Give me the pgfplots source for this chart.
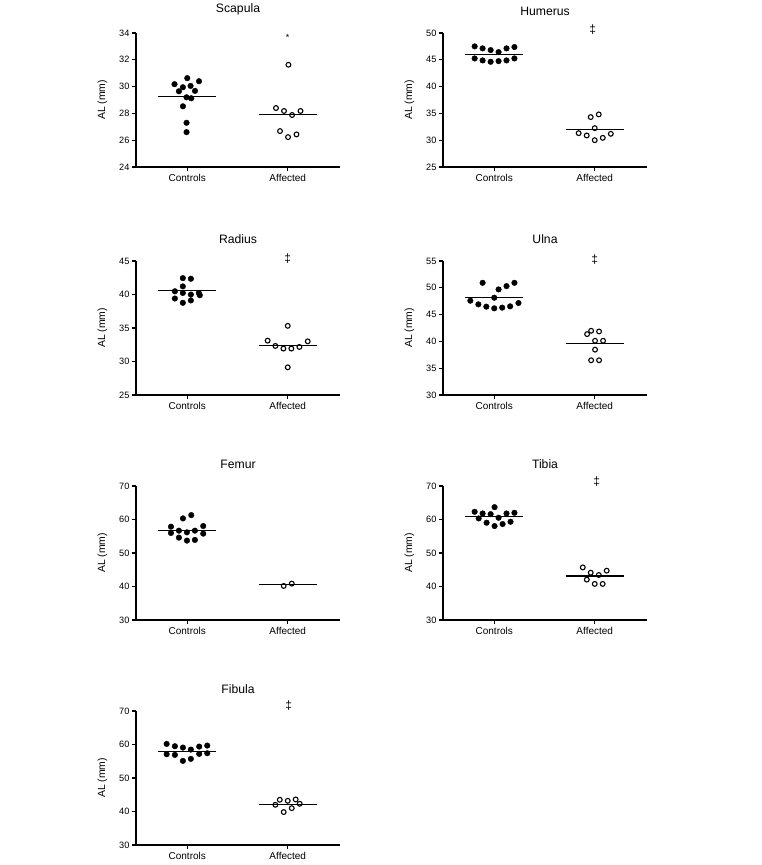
\documentclass[border=0pt]{standalone}
\usepackage{pgfplots}
\pgfplotsset{compat=1.18}
\usepackage{fontspec}
\setmainfont{Liberation Sans}
\tikzset{sig/.style={font=\fontsize{12}{13}\selectfont}}
\pgfplotsset{
  bone/.style={
    width=204pt, height=134pt, scale only axis,
    xmin=0.49, xmax=2.52,
    axis x line*=bottom, axis y line*=left,
    axis line style={line width=1.6pt,-},
    xtick={1,2}, xticklabels={Controls,Affected},
    tick align=outside, major tick length=4pt,
    tick style={line width=1.2pt,black},
    minor tick num=0,
    ylabel={AL (mm)},
    ylabel style={at={(axis description cs:-0.165,0.5)}, anchor=center, font=\fontsize{10.4}{12}\selectfont},
    yticklabel style={font=\fontsize{9.2}{10}\selectfont, xshift=1pt},
    xticklabel style={font=\fontsize{10}{12}\selectfont},
    /pgf/number format/assume math mode=true,
    title style={font=\fontsize{12.2}{14}\selectfont, yshift=8pt},
    clip=false,
  },
  ctrl/.style={only marks, mark=*, mark size=2.8pt, black},
  aff/.style={only marks, mark=o, mark size=2.4pt, black, line width=1.1pt, mark options={fill=white}},
  med/.style={black, line width=1.1pt, no marks},
}
\begin{document}
\begin{tikzpicture}[x=1pt,y=1pt]
\useasboundingbox (0,0) rectangle (761,865);
% Scapula
\begin{axis}[bone, at={(136pt,698pt)}, anchor=south west, title={Scapula},
  ymin=24, ymax=34, ytick={24,26,28,30,32,34}]
\addplot[med] coordinates {(0.71,29.28) (1.29,29.28)};
\addplot[med] coordinates {(1.71,27.95) (2.29,27.95)};
\addplot[ctrl] coordinates {(0.873,30.18)(1.0,30.63)(1.117,30.4)(0.957,29.95)(1.033,30.05)(0.917,29.65)(1.077,29.68)(0.993,29.2)(1.04,29.13)(0.957,28.53)(0.993,27.3)(0.993,26.6)};
\addplot[aff] coordinates {(2.007,31.63)(1.883,28.4)(1.963,28.18)(2.043,27.88)(2.127,28.18)(1.923,26.68)(2.003,26.23)(2.087,26.43)};
\node[font=\fontsize{9}{10}\selectfont] at (axis cs:2,33.7) {*};
\end{axis}
% Humerus
\begin{axis}[bone, at={(443pt,698pt)}, anchor=south west, title={Humerus},
  ymin=25, ymax=50, ytick={25,30,35,40,45,50}]
\addplot[med] coordinates {(0.71,46.06) (1.29,46.06)};
\addplot[med] coordinates {(1.71,32.0) (2.29,32.0)};
\addplot[ctrl] coordinates {(0.805,47.5)(0.884,47.13)(0.964,46.81)(1.043,46.44)(1.122,47.13)(1.201,47.38)(0.805,45.25)(0.884,44.88)(0.964,44.63)(1.043,44.75)(1.122,44.88)(1.201,45.25)};
\addplot[aff] coordinates {(1.96,34.31)(2.04,34.81)(2.0,32.25)(1.84,31.31)(1.92,30.88)(2.0,30.0)(2.08,30.44)(2.16,31.19)};
\node[sig] at (axis cs:1.98,50.6) {‡};
\end{axis}
% Radius
\begin{axis}[bone, at={(136pt,470pt)}, anchor=south west, title={Radius},
  ymin=25, ymax=45, ytick={25,30,35,40,45}]
\addplot[med] coordinates {(0.71,40.58) (1.29,40.58)};
\addplot[med] coordinates {(1.71,32.42) (2.29,32.42)};
\addplot[ctrl] coordinates {(0.956,42.44)(1.036,42.35)(0.956,41.21)(0.877,40.48)(0.956,40.23)(1.036,39.99)(1.115,40.23)(1.125,39.89)(0.877,39.40)(0.956,38.76)(1.036,39.11)};
\addplot[aff] coordinates {(2.0,35.32)(1.80,33.11)(1.877,32.32)(1.957,31.93)(2.036,31.93)(2.116,32.17)(2.199,33.01)(2.0,29.13)};
\node[sig] at (axis cs:2,45.3) {‡};
\end{axis}
% Ulna
\begin{axis}[bone, at={(443pt,470pt)}, anchor=south west, title={Ulna},
  ymin=30, ymax=55, ytick={30,35,40,45,50,55}]
\addplot[med] coordinates {(0.71,48.2) (1.29,48.2)};
\addplot[med] coordinates {(1.71,39.69) (2.29,39.69)};
\addplot[ctrl] coordinates {(0.884,50.93)(1.043,49.69)(1.122,50.31)(1.201,50.93)(1.0,48.15)(0.762,47.59)(0.842,46.91)(0.921,46.48)(1.0,46.17)(1.079,46.30)(1.158,46.54)(1.241,47.16)};
\addplot[aff] coordinates {(1.924,41.36)(1.964,41.98)(2.043,41.85)(2.003,40.12)(2.083,40.12)(2.003,38.46)(1.964,36.48)(2.043,36.48)};
\node[sig] at (axis cs:2,55.3) {‡};
\end{axis}
% Femur
\begin{axis}[bone, at={(136pt,245pt)}, anchor=south west, title={Femur},
  ymin=30, ymax=70, ytick={30,40,50,60,70}]
\addplot[med] coordinates {(0.71,56.67) (1.29,56.67)};
\addplot[med] coordinates {(1.71,40.47) (2.29,40.47)};
\addplot[ctrl] coordinates {(1.04,61.31)(0.957,60.32)(0.838,57.85)(1.159,58.05)(0.838,55.98)(0.917,56.67)(0.997,56.17)(1.076,56.67)(1.159,55.78)(0.917,54.59)(0.997,53.70)(1.076,53.90)};
\addplot[aff] coordinates {(1.96,40.17)(2.04,40.86)};
\end{axis}
% Tibia
\begin{axis}[bone, at={(443pt,245pt)}, anchor=south west, title={Tibia},
  ymin=30, ymax=70, ytick={30,40,50,60,70}]
\addplot[med] coordinates {(0.71,60.81) (1.29,60.81)};
\addplot[med] coordinates {(1.71,43.14) (2.29,43.14)};
\addplot[ctrl] coordinates {(0.805,62.3)(0.884,61.8)(1.003,63.68)(0.964,61.6)(1.122,61.8)(1.201,62.0)(0.845,60.32)(1.043,60.52)(0.924,59.04)(1.003,58.05)(1.083,58.64)(1.162,59.33)};
\addplot[aff] coordinates {(1.881,45.7)(1.96,44.12)(2.04,43.43)(2.119,44.72)(1.921,42.05)(2.0,40.77)(2.079,40.77)};
\node[sig] at (axis cs:2.02,71.2) {‡};
\end{axis}
% Fibula
\begin{axis}[bone, at={(136pt,20pt)}, anchor=south west, title={Fibula},
  ymin=30, ymax=70, ytick={30,40,50,60,70}]
\addplot[med] coordinates {(0.71,57.99) (1.29,57.99)};
\addplot[med] coordinates {(1.71,42.2) (2.29,42.2)};
\addplot[ctrl] coordinates {(0.795,60.17)(0.877,59.48)(0.957,59.08)(1.036,58.49)(1.119,59.38)(1.199,59.68)(0.795,57.1)(0.877,56.9)(1.119,57.2)(1.199,57.4)(0.957,55.11)(1.036,55.71)};
\addplot[aff] coordinates {(1.921,43.5)(2.0,43.2)(2.079,43.6)(1.877,42.0)(2.119,42.3)(2.04,41.0)(1.96,39.83)};
\node[sig] at (axis cs:2.01,71.5) {‡};
\end{axis}
\end{tikzpicture}
\end{document}
